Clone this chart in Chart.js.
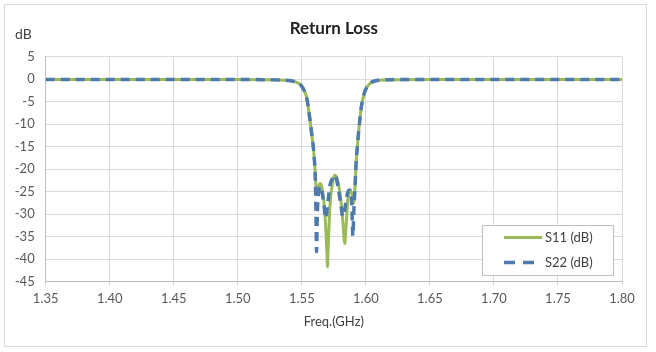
<!DOCTYPE html>
<html>
<head>
<meta charset="UTF-8">
<title>Return Loss</title>
<script src="https://cdn.jsdelivr.net/npm/chart.js"></script>
<style>
  html, body { margin: 0; padding: 0; background: #fff; }
  #wrap { width: 656px; height: 352px; }
</style>
</head>
<body>
<div id="wrap"><canvas id="rl" width="656" height="352"></canvas></div>
<script>
// frequency points (GHz)
const freq = [1.35, 1.40, 1.45, 1.50, 1.52, 1.53, 1.54, 1.545, 1.548, 1.550, 1.552, 1.554, 1.556, 1.558,
  1.5595, 1.5605, 1.561, 1.5615, 1.562, 1.5625, 1.5635, 1.5645, 1.566, 1.5675, 1.5685, 1.5695, 1.570,
  1.5705, 1.572, 1.574, 1.5757, 1.578, 1.5805, 1.582, 1.5835, 1.5845, 1.586, 1.5874, 1.589, 1.5899,
  1.5905, 1.5915, 1.5925, 1.5935, 1.5945, 1.5965, 1.599, 1.603, 1.607, 1.612, 1.62, 1.65, 1.70, 1.75, 1.80];

// S11 (dB)
const s11 = [-0.05, -0.05, -0.05, -0.05, -0.1, -0.15, -0.3, -0.6, -1.0, -1.6, -2.6, -4.4, -8.3, -12.8,
  -16.8, -21, -23.5, -25, -25.5, -24.5, -23.5, -23.2, -24.5, -28, -32, -38, -41.7,
  -38, -28, -23, -21.3, -22.5, -27, -31.5, -36.5, -33, -26.5, -24.6, -25.5, -27,
  -27.5, -24, -18, -14.5, -11.2, -6.1, -2.9, -1.0, -0.4, -0.2, -0.1, -0.05, -0.05, -0.05, -0.05];

// S22 (dB)
const s22 = [-0.05, -0.05, -0.05, -0.05, -0.1, -0.15, -0.3, -0.6, -1.0, -1.6, -2.6, -4.4, -8.3, -12.8,
  -16.8, -22, -29, -38.3, -31, -27, -24.5, -23.8, -25.5, -28.5, -30.9, -29.5, -28,
  -27, -23.5, -22, -21.3, -23.5, -28, -30.5, -29, -27, -25, -24.6, -28, -34.8,
  -30, -24, -18, -14.5, -11.2, -6.1, -2.9, -1.0, -0.4, -0.2, -0.1, -0.05, -0.05, -0.05, -0.05];

const seriesNames = ['S11 (dB)', 'S22 (dB)'];
const xTicks = [1.35, 1.40, 1.45, 1.50, 1.55, 1.60, 1.65, 1.70, 1.75, 1.80];
const yTicks = [5, 0, -5, -10, -15, -20, -25, -30, -35, -40, -45];

const GREEN = '#9bbb59';
const BLUE = '#4e7aad';
const FONT = 'Lato, "Open Sans", sans-serif';

const pts = vals => freq.map((f, i) => ({ x: f, y: vals[i] }));

// frame, title, axis names and legend box
const decor = {
  id: 'decor',
  beforeDraw(chart) {
    const c = chart.ctx;
    c.save();
    c.fillStyle = '#fff';
    c.fillRect(0, 0, chart.width, chart.height);
    c.strokeStyle = '#d9d9d9';
    c.lineWidth = 1;
    c.strokeRect(4.5, 4.5, 642, 342);
    c.restore();
  },
  afterDraw(chart) {
    const c = chart.ctx;
    const a = chart.chartArea;
    c.save();
    c.fillStyle = '#222';
    c.font = 'bold 17px ' + FONT;
    c.textAlign = 'center';
    c.textBaseline = 'middle';
    c.fillText('Return Loss', (a.left + a.right) / 2, 29);

    c.fillStyle = '#404040';
    c.font = '14px ' + FONT;
    c.textAlign = 'left';
    c.fillText('dB', 15, 34);
    c.font = '13px ' + FONT;
    c.textAlign = 'center';
    c.fillText('Freq.(GHz)', (a.left + a.right) / 2, 322);

    // legend
    const bx = 482.5, by = 225.5, bw = 131, bh = 50;
    c.fillStyle = '#fff';
    c.fillRect(bx, by, bw, bh);
    c.strokeStyle = '#bfbfbf';
    c.lineWidth = 1;
    c.strokeRect(bx, by, bw, bh);
    const rows = [
      { y: 237.5, color: GREEN, dash: [], width: 3 },
      { y: 262.5, color: BLUE, dash: [11, 8], width: 3.5 }
    ];
    rows.forEach((r, i) => {
      c.beginPath();
      c.setLineDash(r.dash);
      c.strokeStyle = r.color;
      c.lineWidth = r.width;
      c.moveTo(504, r.y);
      c.lineTo(542, r.y);
      c.stroke();
      c.setLineDash([]);
      c.fillStyle = '#404040';
      c.font = '13px ' + FONT;
      c.textAlign = 'left';
      c.textBaseline = 'middle';
      c.fillText(seriesNames[i], 545, r.y);
    });
    c.restore();
  }
};

new Chart(document.getElementById('rl'), {
  type: 'line',
  data: {
    datasets: [
      {
        label: seriesNames[0],
        data: pts(s11),
        borderColor: GREEN,
        borderWidth: 3,
        pointRadius: 0,
        cubicInterpolationMode: 'monotone',
        order: 2
      },
      {
        label: seriesNames[1],
        data: pts(s22),
        borderColor: BLUE,
        borderWidth: 3.5,
        borderDash: [9, 6],
        pointRadius: 0,
        cubicInterpolationMode: 'monotone',
        order: 1
      }
    ]
  },
  options: {
    responsive: false,
    animation: false,
    devicePixelRatio: 1,
    layout: { padding: { left: 5.7, right: 34, top: 56.7, bottom: 0 } },
    plugins: {
      legend: { display: false },
      tooltip: { enabled: false },
      title: { display: false }
    },
    scales: {
      x: {
        type: 'linear',
        min: 1.35,
        max: 1.80,
        afterBuildTicks: s => { s.ticks = xTicks.map(v => ({ value: v })); },
        afterFit: s => { s.height = 70.3; },
        ticks: {
          color: '#595959',
          font: { family: FONT, size: 13 },
          padding: 5,
          maxRotation: 0,
          callback: v => v.toFixed(2)
        },
        grid: { color: '#d9d9d9', lineWidth: 1, tickLength: 4 },
        border: { color: '#bfbfbf' }
      },
      y: {
        min: -45,
        max: 5,
        afterBuildTicks: s => { s.ticks = yTicks.map(v => ({ value: v })); },
        afterFit: s => { s.width = 40; },
        ticks: {
          color: '#595959',
          font: { family: FONT, size: 13 },
          padding: 11
        },
        grid: { color: '#d9d9d9', lineWidth: 1, drawTicks: false },
        border: { color: '#bfbfbf' }
      }
    }
  },
  plugins: [decor]
});
</script>
</body>
</html>
